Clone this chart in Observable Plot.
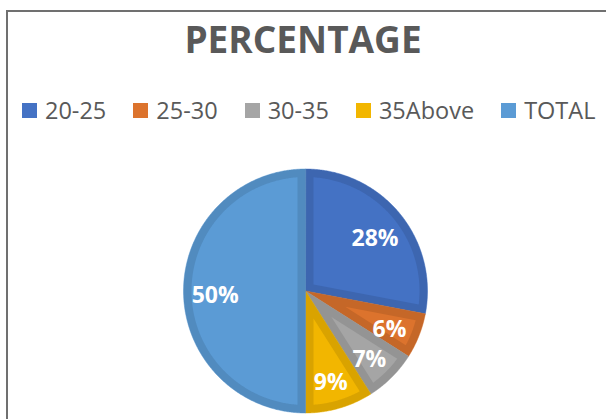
<!DOCTYPE html>
<html>
<head>
<meta charset="utf-8">
<script src="https://cdn.jsdelivr.net/npm/d3@7"></script>
<script src="https://cdn.jsdelivr.net/npm/@observablehq/plot@0.6"></script>
<style>
  html, body { margin: 0; padding: 0; background: #fff; }
  #wrap { position: relative; width: 606px; height: 419px; overflow: hidden; background: #fff; }
  #frame { position: absolute; left: 6px; top: 10px; width: 700px; height: 500px;
           border-left: 2px solid #707070; border-top: 2px solid #707070; pointer-events: none; }
  #header { position: relative; width: 606px; height: 130px; }
  #title { position: absolute; left: 0; top: 20px; width: 606px; text-align: center;
           font-family: "Open Sans", sans-serif; font-weight: 700; font-size: 37px; line-height: 37px;
           color: #595959; }
  #legend { position: absolute; left: 22px; top: 98px; display: flex; align-items: center;
            font-family: "Open Sans", sans-serif; font-size: 23.5px; line-height: 24px; color: #595959;
            white-space: nowrap; }
  .item { display: flex; align-items: center; margin-right: 27px; }
  .sw { width: 15px; height: 15px; margin-right: 8px; }
  #plot svg { display: block; }
</style>
</head>
<body>
<div id="wrap">
  <div id="header">
    <div id="title"></div>
    <div id="legend"></div>
  </div>
  <div id="plot"></div>
  <div id="frame"></div>
</div>
<script>
// ---- data ----
const title = "PERCENTAGE";
const categories = ["20-25", "25-30", "30-35", "35Above", "TOTAL"];
const values = [28, 6, 7, 9, 50];
const labels = ["28%", "6%", "7%", "9%", "50%"];
const palette = ["#4472c4", "#dc732d", "#a5a5a5", "#f2b600", "#5b9bd5"];

// ---- layout ----
const W = 606, H = 289;
const cx = 305, cy = 160.5, R = 122;   // pixel center & radius within the svg
const bevel = 8 / R;                     // edge band width (in radius units)
const labelR = 0.74;

document.getElementById("title").textContent = title;
const legend = document.getElementById("legend");
categories.forEach((c, i) => {
  const it = document.createElement("div"); it.className = "item";
  const sw = document.createElement("div"); sw.className = "sw"; sw.style.background = palette[i];
  const tx = document.createElement("span"); tx.textContent = c;
  it.appendChild(sw); it.appendChild(tx); legend.appendChild(it);
});

const rows = categories.map((c, i) => ({cat: c, value: values[i], label: labels[i]}));
const arcs = d3.pie().sort(null).value(d => d.value)(rows);

// polygon points for each slice (outer) and its inset (inner)
const outer = [], inner = [];
const step = Math.PI / 360;
for (const a of arcs) {
  const a0 = a.startAngle, a1 = a.endAngle, cat = a.data.cat;
  outer.push({cat, x: 0, y: 0});
  for (let t = a0; t < a1; t += step) outer.push({cat, x: Math.sin(t), y: Math.cos(t)});
  outer.push({cat, x: Math.sin(a1), y: Math.cos(a1)});

  const th = a1 - a0, rho = 1 - bevel, dl = Math.asin(bevel / rho);
  if (th < Math.PI - 1e-6) {
    const m = (a0 + a1) / 2, ap = bevel / Math.sin(th / 2);
    inner.push({cat, x: Math.sin(m) * ap, y: Math.cos(m) * ap});
  }
  for (let t = a0 + dl; t < a1 - dl; t += step) inner.push({cat, x: Math.sin(t) * rho, y: Math.cos(t) * rho});
  inner.push({cat, x: Math.sin(a1 - dl) * rho, y: Math.cos(a1 - dl) * rho});
}
const labelPts = arcs.map(a => {
  const m = (a.startAngle + a.endAngle) / 2;
  return {label: a.data.label, x: Math.sin(m) * labelR, y: Math.cos(m) * labelR};
});

const chart = Plot.plot({
  width: W, height: H,
  margin: 0, marginTop: 0, marginRight: 0, marginBottom: 0, marginLeft: 0,
  x: {type: "linear", domain: [-cx / R, (W - cx) / R], axis: null},
  y: {type: "linear", domain: [-(H - cy) / R, cy / R], axis: null},
  color: {type: "ordinal", domain: categories, range: palette},
  style: {background: "transparent", overflow: "visible"},
  marks: [
    Plot.line(outer, {x: "x", y: "y", z: "cat", fill: "cat", stroke: "cat", strokeWidth: 0.5, curve: "linear-closed"}),
    Plot.line(outer, {x: "x", y: "y", z: "cat", fill: "black", fillOpacity: 0.1, stroke: "none", curve: "linear-closed"}),
    Plot.line(inner, {x: "x", y: "y", z: "cat", fill: "cat", stroke: "none", curve: "linear-closed"}),
    Plot.text(labelPts, {x: "x", y: "y", dy: 5, text: "label", fill: "white", fontSize: 23,
      fontWeight: "bold", fontFamily: "Open Sans, sans-serif"})
  ]
});
document.getElementById("plot").appendChild(chart);
</script>
</body>
</html>
